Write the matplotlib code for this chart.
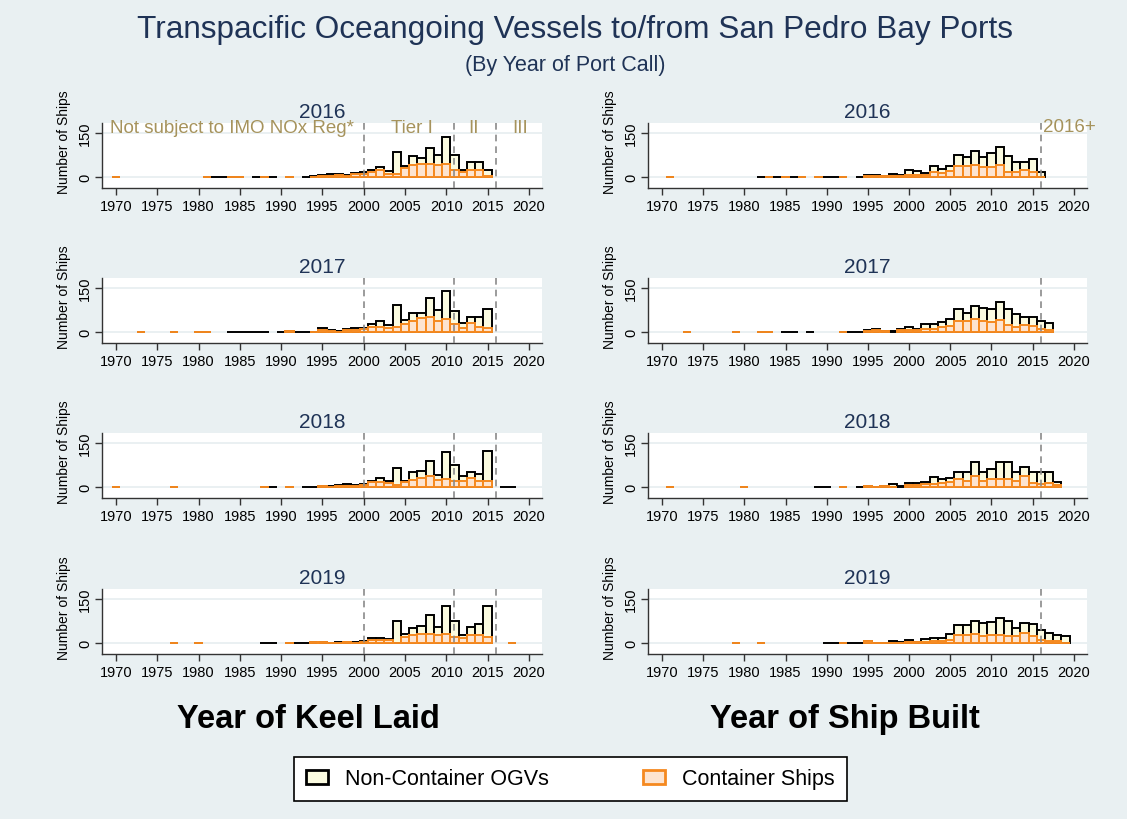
import numpy as np
import matplotlib
matplotlib.use('Agg')
import matplotlib.pyplot as plt
from matplotlib.patches import Patch

plt.rcParams['font.family'] = ['Liberation Sans', 'DejaVu Sans']

years = np.arange(1970, 2020)
port_years = ['2016', '2017', '2018', '2019']

# ships by year of keel laid, one list per port-call year (1970..2019)
keel_2016_all = [1, 0, 0, 0, 0, 0, 0, 0, 0, 0,
                 0, 1, 1, 1, 1, 1, 0, 1, 1, 1,
                 0, 2, 0, 1, 3, 6, 10, 11, 6, 14,
                 17, 24, 35, 22, 84, 39, 72, 65, 99, 74,
                 136, 74, 25, 52, 52, 25, 0, 0, 0, 0]
keel_2016_cont = [1, 0, 0, 0, 0, 0, 0, 0, 0, 0,
                  0, 1, 0, 0, 1, 1, 0, 0, 1, 0,
                  0, 2, 0, 0, 2, 3, 5, 6, 4, 9,
                  11, 16, 23, 11, 11, 32, 40, 43, 43, 42,
                  43, 23, 16, 25, 25, 3, 0, 0, 0, 0]
keel_2017_all = [0, 0, 0, 1, 0, 0, 0, 1, 0, 0,
                 1, 1, 0, 0, 1, 1, 1, 1, 1, 0,
                 1, 3, 2, 1, 2, 13, 6, 3, 12, 15,
                 15, 27, 38, 24, 92, 41, 66, 66, 117, 74,
                 141, 71, 30, 51, 51, 80, 0, 0, 0, 0]
keel_2017_cont = [0, 0, 0, 1, 0, 0, 0, 1, 0, 0,
                  1, 1, 0, 0, 0, 0, 0, 0, 0, 0,
                  0, 3, 0, 0, 1, 8, 5, 1, 8, 8,
                  11, 19, 19, 13, 19, 27, 38, 47, 50, 38,
                  46, 27, 13, 30, 19, 13, 0, 0, 0, 0]
keel_2018_all = [1, 0, 0, 0, 0, 0, 0, 1, 0, 0,
                 0, 0, 0, 0, 0, 0, 0, 0, 1, 1,
                 0, 1, 0, 1, 2, 4, 3, 8, 12, 6,
                 9, 22, 31, 20, 64, 21, 50, 56, 88, 42,
                 121, 74, 39, 53, 46, 123, 0, 1, 1, 0]
keel_2018_cont = [1, 0, 0, 0, 0, 0, 0, 1, 0, 0,
                  0, 0, 0, 0, 0, 0, 0, 0, 1, 0,
                  0, 1, 0, 0, 0, 4, 2, 3, 4, 4,
                  6, 17, 17, 13, 8, 17, 24, 31, 38, 24,
                  28, 21, 21, 32, 21, 21, 0, 0, 0, 0]
keel_2019_all = [0, 0, 0, 0, 0, 0, 0, 1, 0, 0,
                 1, 0, 0, 0, 0, 0, 0, 0, 1, 1,
                 0, 1, 1, 2, 5, 4, 2, 5, 4, 4,
                 8, 16, 18, 15, 75, 31, 53, 58, 96, 56,
                 126, 74, 28, 54, 65, 125, 0, 0, 2, 0]
keel_2019_cont = [0, 0, 0, 0, 0, 0, 0, 1, 0, 0,
                  1, 0, 0, 0, 0, 0, 0, 0, 0, 0,
                  0, 1, 0, 0, 5, 4, 1, 1, 4, 2,
                  4, 9, 9, 9, 2, 20, 28, 31, 31, 26,
                  31, 22, 17, 28, 28, 21, 0, 0, 2, 0]

# ships by year built
built_2016_all = [0, 1, 0, 0, 0, 0, 0, 0, 0, 0,
                  0, 0, 1, 1, 1, 1, 1, 1, 0, 1,
                  1, 1, 1, 0, 2, 6, 8, 5, 10, 8,
                  25, 21, 14, 39, 26, 39, 76, 68, 90, 68,
                  81, 101, 72, 50, 53, 61, 19, 0, 0, 0]
built_2016_cont = [0, 1, 0, 0, 0, 0, 0, 0, 0, 0,
                   0, 0, 0, 1, 0, 1, 0, 1, 0, 1,
                   0, 0, 1, 0, 0, 3, 4, 3, 4, 4,
                   8, 8, 8, 16, 14, 20, 39, 39, 41, 34,
                   34, 42, 18, 18, 25, 18, 2, 0, 0, 0]
built_2017_all = [0, 0, 0, 1, 0, 0, 0, 0, 0, 1,
                  0, 0, 1, 1, 0, 1, 1, 0, 1, 0,
                  0, 0, 2, 2, 2, 7, 9, 5, 3, 11,
                  19, 12, 28, 29, 34, 43, 78, 64, 89, 81,
                  77, 104, 78, 61, 51, 53, 39, 30, 0, 0]
built_2017_cont = [0, 0, 0, 1, 0, 0, 0, 0, 0, 1,
                   0, 0, 1, 1, 0, 0, 0, 0, 0, 0,
                   0, 0, 2, 0, 0, 5, 7, 4, 0, 6,
                   8, 8, 11, 11, 17, 22, 37, 37, 43, 37,
                   33, 42, 24, 17, 24, 22, 11, 8, 0, 0]
built_2018_all = [0, 1, 0, 0, 0, 0, 0, 0, 0, 0,
                  1, 0, 0, 0, 0, 0, 0, 0, 0, 1,
                  1, 0, 1, 0, 2, 5, 2, 3, 11, 3,
                  14, 14, 18, 33, 27, 31, 50, 50, 86, 50,
                  61, 87, 84, 53, 69, 50, 52, 50, 19, 0]
built_2018_cont = [0, 1, 0, 0, 0, 0, 0, 0, 0, 0,
                   1, 0, 0, 0, 0, 0, 0, 0, 0, 0,
                   0, 0, 1, 0, 0, 4, 2, 3, 2, 0,
                   8, 8, 9, 11, 14, 16, 26, 20, 38, 20,
                   28, 26, 27, 20, 37, 14, 11, 14, 6, 0]
built_2019_all = [0, 0, 0, 0, 0, 0, 0, 0, 0, 1,
                  0, 0, 1, 0, 0, 0, 0, 0, 0, 0,
                  1, 1, 1, 1, 2, 8, 2, 2, 6, 3,
                  11, 5, 13, 19, 19, 32, 63, 60, 76, 68,
                  72, 85, 74, 50, 70, 65, 43, 36, 26, 23]
built_2019_cont = [0, 0, 0, 0, 0, 0, 0, 0, 0, 1,
                   0, 0, 1, 0, 0, 0, 0, 0, 0, 0,
                   0, 0, 1, 0, 0, 6, 1, 2, 1, 1,
                   3, 3, 4, 6, 8, 11, 27, 28, 31, 23,
                   28, 28, 23, 23, 34, 23, 11, 8, 6, 2]

keel_all = [keel_2016_all, keel_2017_all, keel_2018_all, keel_2019_all]
keel_cont = [keel_2016_cont, keel_2017_cont, keel_2018_cont, keel_2019_cont]
built_all = [built_2016_all, built_2017_all, built_2018_all, built_2019_all]
built_cont = [built_2016_cont, built_2017_cont, built_2018_cont, built_2019_cont]

keel_cutoffs = [2000, 2011, 2016]
built_cutoffs = [2016]

BG = '#e9f0f2'
CREAM = '#fbfbe0'
PEACH = '#fde4d0'
ORANGE = '#f5891f'
NAVY = '#1f3356'
KHAKI = '#a6935c'

W, H = 1127, 820


def px_rect(x0, y0, w, h):
    return [x0 / W, 1 - (y0 + h) / H, w / W, h / H]


def draw_panel(ax, title, totals, conts, cutoffs):
    totals = np.array(totals)
    conts = np.array(conts)
    ax.set_facecolor('white')
    for y in (0, 150):
        ax.axhline(y, color='#e6eef0', lw=1.2, zorder=0)
    m = totals > 0
    ax.bar(years[m], totals[m], width=1, facecolor=CREAM, edgecolor='black', lw=1.4, zorder=2)
    m = conts > 0
    ax.bar(years[m], conts[m], width=1, facecolor=PEACH, edgecolor=ORANGE, lw=1.4, zorder=3)
    for c in cutoffs:
        ax.axvline(c, color='#8a8a8a', lw=1.2, ls=(0, (4, 3)), zorder=4)
    ax.set_xlim(1968.3, 2021.6)
    ax.set_ylim(-37, 184)
    ax.set_xticks(range(1970, 2021, 5))
    ax.set_yticks([0, 150])
    ax.tick_params(axis='x', labelsize=10.5, length=5, width=1, color='#333333', pad=3)
    ax.tick_params(axis='y', labelsize=10.5, length=5, width=1, color='#333333', labelrotation=90, pad=2)
    for lab in ax.get_yticklabels():
        lab.set_va('center')
    for s in ('top', 'right'):
        ax.spines[s].set_visible(False)
    for s in ('left', 'bottom'):
        ax.spines[s].set_color('#333333')
        ax.spines[s].set_linewidth(1)
    ax.set_ylabel('Number of Ships', fontsize=10)
    ax.yaxis.set_label_coords(-0.07, 0.72)
    ax.set_title(title, fontsize=15, color=NAVY, pad=4)


fig = plt.figure(figsize=(W / 100, H / 100), dpi=100, facecolor=BG)

row_tops = [124, 279, 434, 590]
left_axes = []
right_axes = []
for i, top in enumerate(row_tops):
    axl = fig.add_axes(px_rect(102, top, 440, 65))
    draw_panel(axl, port_years[i], keel_all[i], keel_cont[i], keel_cutoffs)
    axr = fig.add_axes(px_rect(648, top, 439, 65))
    draw_panel(axr, port_years[i], built_all[i], built_cont[i], built_cutoffs)
    left_axes.append(axl)
    right_axes.append(axr)

# regulation notes on the first row
ax = left_axes[0]
note_kw = dict(color=KHAKI, fontsize=13.5, va='center', clip_on=False, zorder=5)
ax.text(1969.3, 168, 'Not subject to IMO NOx Reg*', ha='left', **note_kw)
ax.text(2005.8, 168, 'Tier I', ha='center', **note_kw)
ax.text(2013.3, 168, 'II', ha='center', **note_kw)
ax.text(2019.0, 168, 'III', ha='center', **note_kw)
right_axes[0].text(2016.2, 172, '2016+', ha='left', **note_kw)

fig.text(575 / W, 1 - 30 / H, 'Transpacific Oceangoing Vessels to/from San Pedro Bay Ports',
         ha='center', va='center', fontsize=22.7, color=NAVY)
fig.text(565 / W, 1 - 65 / H, '(By Year of Port Call)', ha='center', va='center',
         fontsize=15.5, color=NAVY)

fig.text(308 / W, 1 - 720 / H, 'Year of Keel Laid', ha='center', va='center',
         fontsize=23.5, fontweight='bold')
fig.text(845 / W, 1 - 720 / H, 'Year of Ship Built', ha='center', va='center',
         fontsize=23.5, fontweight='bold')

handles = [Patch(facecolor=CREAM, edgecolor='black', lw=2, label='Non-Container OGVs'),
           Patch(facecolor=PEACH, edgecolor=ORANGE, lw=2, label='Container Ships')]
leg = fig.legend(handles=handles, loc='center', ncol=2, fontsize=15.5,
                 bbox_to_anchor=(570.5 / W, 1 - 780 / H), frameon=True, fancybox=False,
                 edgecolor='black', framealpha=1, handlelength=1.0, handleheight=0.6,
                 columnspacing=4.4, borderpad=0.55, borderaxespad=0, handletextpad=0.8)
leg.get_frame().set_linewidth(1.2)

fig.savefig('out.png', dpi=100, facecolor=BG)
